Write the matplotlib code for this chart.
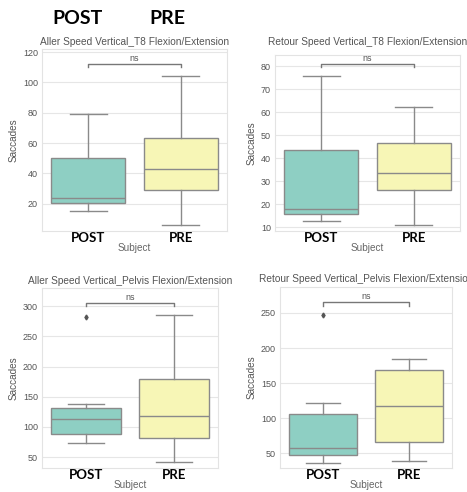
import matplotlib
matplotlib.use("Agg")
import matplotlib.pyplot as plt

plt.rcParams["font.family"] = ["Liberation Sans", "DejaVu Sans"]

groups = ["POST", "PRE"]
colors = ["#8ecfc3", "#f7f6b6"]

titles = ["Aller Speed Vertical_T8 Flexion/Extension",
          "Retour Speed Vertical_T8 Flexion/Extension",
          "Aller Speed Vertical_Pelvis Flexion/Extension",
          "Retour Speed Vertical_Pelvis Flexion/Extension"]

# [whislo, q1, median, q3, whishi] per group
t8_aller_post = [15, 20.5, 24, 50, 79]
t8_aller_pre = [6, 29, 43, 63, 104]
t8_retour_post = [12.5, 15.5, 18, 43.5, 75.5]
t8_retour_pre = [11, 26, 33.5, 46.5, 62]
pelvis_aller_post = [73, 88, 113, 132, 138]
pelvis_aller_pre = [42, 81, 118, 179, 286]
pelvis_retour_post = [36, 48, 57, 106, 121]
pelvis_retour_pre = [39, 66, 118, 168, 185]

fliers_post = [[], [], [282], [247]]
fliers_pre = [[], [], [], []]

panel_post = [t8_aller_post, t8_retour_post, pelvis_aller_post, pelvis_retour_post]
panel_pre = [t8_aller_pre, t8_retour_pre, pelvis_aller_pre, pelvis_retour_pre]

ylims = [(2, 122), (8.3, 84.8), (32, 330), (29, 287)]
yticks = [[20, 40, 60, 80, 100, 120], [10, 20, 30, 40, 50, 60, 70, 80],
          [50, 100, 150, 200, 250, 300], [50, 100, 150, 200, 250]]
bracket_y = [112, 81, 305, 265]
title_pads = [3, 7, 3, 3.5]

positions = [
    [42/467, 1 - 231/492, 185/467, 182/492],
    [275/467, 1 - 231/492, 185/467, 176/492],
    [42/467, 1 - 468/492, 176/467, 180/492],
    [280/467, 1 - 468/492, 172/467, 181/492],
]

fig = plt.figure(figsize=(4.67, 4.92), dpi=100)
line_c = "#8a8a8a"

for i in range(4):
    ax = fig.add_axes(positions[i])
    ax.set_facecolor("white")
    stats = []
    for vals, fl, lab in [(panel_post[i], fliers_post[i], groups[0]),
                          (panel_pre[i], fliers_pre[i], groups[1])]:
        stats.append(dict(whislo=vals[0], q1=vals[1], med=vals[2], q3=vals[3],
                          whishi=vals[4], fliers=fl, label=lab))
    bp = ax.bxp(stats, positions=[0, 1], widths=0.8, patch_artist=True,
                boxprops=dict(edgecolor=line_c, linewidth=1.0),
                medianprops=dict(color=line_c, linewidth=1.0),
                whiskerprops=dict(color=line_c, linewidth=1.0),
                capprops=dict(color=line_c, linewidth=1.0),
                capwidths=0.4,
                flierprops=dict(marker="d", markersize=2.5, markerfacecolor="#555555",
                                markeredgecolor="#555555"))
    for patch, c in zip(bp["boxes"], colors):
        patch.set_facecolor(c)
    ax.set_xlim(-0.5, 1.5)
    ax.set_ylim(*ylims[i])
    ax.set_yticks(yticks[i])
    ax.set_xticks([0, 1])
    ax.set_xticklabels(groups, fontsize=9.5, fontweight="bold", color="black",
                       family=["Lato", "DejaVu Sans"])
    ax.tick_params(axis="y", labelsize=6.5, colors="#555555", length=0, pad=3)
    ax.tick_params(axis="x", length=0, pad=1)
    ax.grid(True, axis="y", color="#e6e6e6", linewidth=0.8)
    ax.set_axisbelow(True)
    for s in ax.spines.values():
        s.set_color("#e3e3e3")
        s.set_linewidth(0.8)
    ax.set_title(titles[i], fontsize=7.3, color="#555555", pad=title_pads[i])
    ax.set_ylabel("Saccades", fontsize=7.2, color="#555555", labelpad=3)
    ax.set_xlabel("Subject", fontsize=7.2, color="#666666", labelpad=-1)
    # significance bracket
    yb = bracket_y[i]
    h = (ylims[i][1] - ylims[i][0]) * 0.018
    ax.plot([0, 0, 1, 1], [yb - h, yb, yb, yb - h], color="#777777", lw=1.0)
    ax.text(0.5, yb + h * 0.3, "ns", ha="center", va="bottom", fontsize=6.5,
            color="#555555")

fig.text(77/467, 1 - 18/492, "POST", fontsize=14, fontweight="bold",
         ha="center", va="center", color="black", family=["Lato", "DejaVu Sans"])
fig.text(167/467, 1 - 18/492, "PRE", fontsize=14, fontweight="bold",
         ha="center", va="center", color="black", family=["Lato", "DejaVu Sans"])

fig.savefig("out.png", dpi=100, facecolor="white")
